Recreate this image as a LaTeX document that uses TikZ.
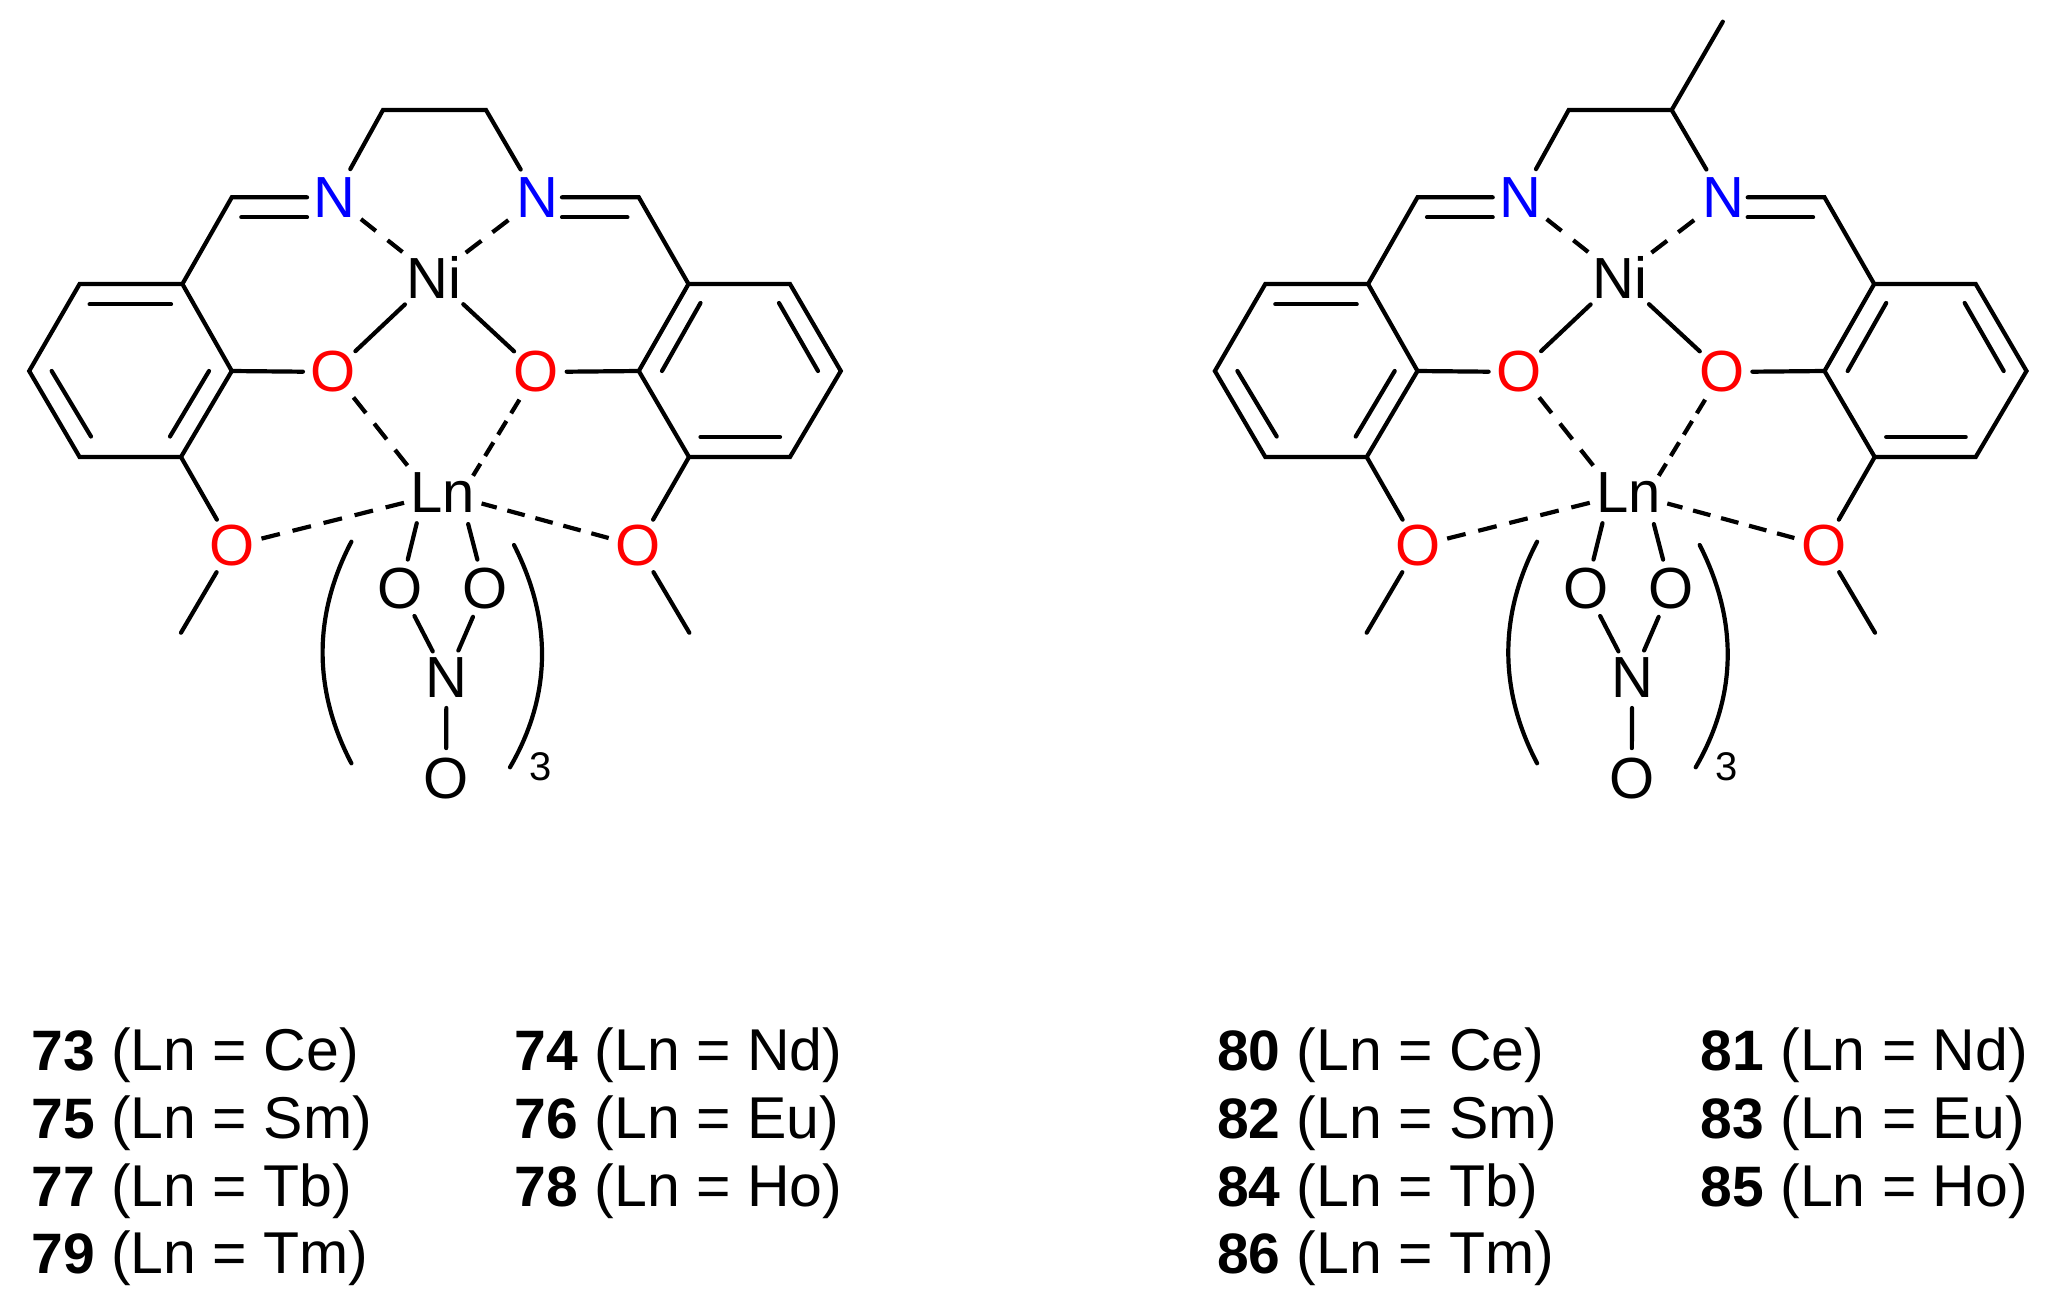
\documentclass[tikz,border=0pt]{standalone}
\usepackage{fontspec}
\setmainfont{Liberation Sans}
\tikzset{
  bond/.style={line width=2.1pt,line cap=round,line join=miter,black},
  dbond/.style={line width=2.1pt,line cap=butt,black,dash pattern=#1},
  atom/.style={circle,inner sep=0pt,outer sep=0pt,minimum size=30pt,font=\fontsize{29}{31}\selectfont},
  metal/.style={atom,minimum size=40pt},
  redatom/.style={atom,text={rgb,255:red,255;green,0;blue,0}},
  blueatom/.style={atom,text={rgb,255:red,0;green,0;blue,255}},
  subs/.style={inner sep=0pt,font=\fontsize{20}{22}\selectfont},
  lab/.style={anchor=base west,inner sep=0pt,font=\fontsize{29.5}{31}\selectfont},
}
\newcommand{\num}[1]{{\fontsize{28.5}{31}\selectfont\bfseries #1}}
\newcommand{\drawcomplex}{%
  % atoms
  \node[blueatom] (N1) at (334.3,198) {N};
  \node[blueatom] (N2) at (537.3,198) {N};
  \node[metal] (Ni) at (434,277) {Ni};
  \node[redatom] (O1) at (333.3,372) {O};
  \node[redatom] (O2) at (536.3,372) {O};
  \node[metal] (Ln) at (443,493) {Ln};
  \node[redatom] (O3) at (232,546) {O};
  \node[redatom] (O4) at (638,546) {O};
  \node[atom] (O5) at (400.5,589) {O};
  \node[atom] (O6) at (485,589) {O};
  \node[atom] (N3) at (446.5,678) {N};
  \node[atom] (O7) at (446,778.5) {O};
  \node[subs] (three) at (541,766.5) {3};
  % carbon vertices
  \coordinate (c1) at (383,110);
  \coordinate (c2) at (486,110);
  \coordinate (i1) at (231.8,197.3);
  \coordinate (i2) at (638.8,197.3);
  \coordinate (a1) at (182.4,284);
  \coordinate (a2) at (79.6,284);
  \coordinate (a3) at (29.2,371);
  \coordinate (a4) at (79.6,457);
  \coordinate (a5) at (181,457);
  \coordinate (a6) at (231.8,371);
  \coordinate (b1) at (688.5,284);
  \coordinate (b2) at (790,284);
  \coordinate (b3) at (840.8,371);
  \coordinate (b4) at (790,457);
  \coordinate (b5) at (689,457);
  \coordinate (b6) at (638.8,371);
  \coordinate (m1) at (181,632.7);
  \coordinate (m2) at (689.3,632.7);
  % rings
  \draw[bond] (a1) -- (a2) -- (a3) -- (a4) -- (a5) -- (a6) -- cycle;
  \draw[bond] (b1) -- (b2) -- (b3) -- (b4) -- (b5) -- (b6) -- cycle;
  % inner lines of the double bonds
  \coordinate (p1) at (89.6,304.3);  \coordinate (p2) at (171,304.3);
  \coordinate (p3) at (51.7,371);    \coordinate (p4) at (91,436.5);
  \coordinate (p5) at (209,371);     \coordinate (p6) at (170,436.5);
  \coordinate (q1) at (700.5,303);   \coordinate (q2) at (662,371);
  \coordinate (q3) at (779,303);     \coordinate (q4) at (818,371);
  \coordinate (q5) at (700.5,437);   \coordinate (q6) at (780,437);
  \draw[bond] (p1) -- (p2);
  \draw[bond] (p3) -- (p4);
  \draw[bond] (p5) -- (p6);
  \draw[bond] (q1) -- (q2);
  \draw[bond] (q3) -- (q4);
  \draw[bond] (q5) -- (q6);
  % imine double bonds
  \coordinate (r1) at (307,197.3);  \coordinate (r2) at (241.3,217.3);  \coordinate (r3) at (307,217.3);
  \coordinate (s1) at (562,197.3);  \coordinate (s2) at (627.4,217.3);  \coordinate (s3) at (562,217.3);
  \draw[bond] (a1) -- (i1) -- (r1);
  \draw[bond] (r2) -- (r3);
  \draw[bond] (b1) -- (i2) -- (s1);
  \draw[bond] (s2) -- (s3);
  % backbone
  \draw[bond,shorten <=1.5pt,shorten >=1.5pt] (N1) -- (c1) -- (c2) -- (N2);
  % aryl O
  \draw[bond] (a6) -- (O1);
  \draw[bond] (b6) -- (O2);
  \draw[bond] (a5) -- (O3);
  \draw[bond] (b5) -- (O4);
  \draw[bond] (O3) -- (m1);
  \draw[bond] (O4) -- (m2);
  % Ni bonds
  \draw[bond] (Ni) -- (O1);
  \draw[bond] (Ni) -- (O2);
  \draw[dbond={on 9.5pt off 7.5pt},shorten <=2pt] (N1) -- (Ni);
  \draw[dbond={on 10pt off 7pt},shorten <=3.2pt] (N2) -- (Ni);
  % Ln bonds
  \draw[dbond={on 9.5pt off 6.5pt}] (O3) -- (Ln);
  \draw[dbond={on 9pt off 5.5pt}] (O4) -- (Ln);
  \draw[dbond={on 10pt off 6.75pt},shorten <=1pt,shorten >=-2.5pt] (O1) -- (Ln.144);
  \draw[dbond={on 8pt off 4.5pt},shorten <=1pt,shorten >=-3pt] (O2) -- (Ln.34);
  \draw[bond] (Ln.-131) -- (O5);
  \draw[bond] (Ln.-51) -- (O6);
  % nitrate
  \draw[bond] (O5) -- (N3);
  \draw[bond] (O6) -- (N3);
  \draw[bond] (N3) -- (O7);
  % brackets
  \coordinate (u1) at (351.4,541.7);  \coordinate (u2) at (351.4,763.3);
  \coordinate (v1) at (514,545);      \coordinate (v2) at (510,767.3);
  \draw[bond] (u1) .. controls (313,615) and (313,690) .. (u2);
  \draw[bond] (v1) .. controls (552,620) and (552,695) .. (v2);
}
\begin{document}
\begin{tikzpicture}[x=0.5pt,y=-0.5pt]
  \useasboundingbox (0,0) rectangle (2063,1296);
  \begin{scope}[name prefix=L-]
    \drawcomplex
  \end{scope}
  \begin{scope}[shift={(1185.7,0)},name prefix=R-]
    \drawcomplex
  \end{scope}
  \coordinate (meth) at (1722.8,21.7);
  \draw[bond] (R-c2) -- (meth);
  % labels
  \node[lab] (t73) at (31,1070.7)     {\num{73} (Ln = Ce)};
  \node[lab] (t75) at (31,1138.3)     {\num{75} (Ln = Sm)};
  \node[lab] (t77) at (31,1206.7)     {\num{77} (Ln = Tb)};
  \node[lab] (t79) at (31,1273.3)     {\num{79} (Ln = Tm)};
  \node[lab] (t74) at (514.5,1070.7)  {\num{74} (Ln = Nd)};
  \node[lab] (t76) at (514.5,1138.3)  {\num{76} (Ln = Eu)};
  \node[lab] (t78) at (514.5,1206.7)  {\num{78} (Ln = Ho)};
  \node[lab] (t80) at (1216.7,1070.7) {\num{80} (Ln = Ce)};
  \node[lab] (t82) at (1216.7,1138.3) {\num{82} (Ln = Sm)};
  \node[lab] (t84) at (1216.7,1206.7) {\num{84} (Ln = Tb)};
  \node[lab] (t86) at (1216.7,1273.3) {\num{86} (Ln = Tm)};
  \node[lab] (t81) at (1700.2,1070.7) {\num{81} (Ln = Nd)};
  \node[lab] (t83) at (1700.2,1138.3) {\num{83} (Ln = Eu)};
  \node[lab] (t85) at (1700.2,1206.7) {\num{85} (Ln = Ho)};
\end{tikzpicture}
\end{document}
